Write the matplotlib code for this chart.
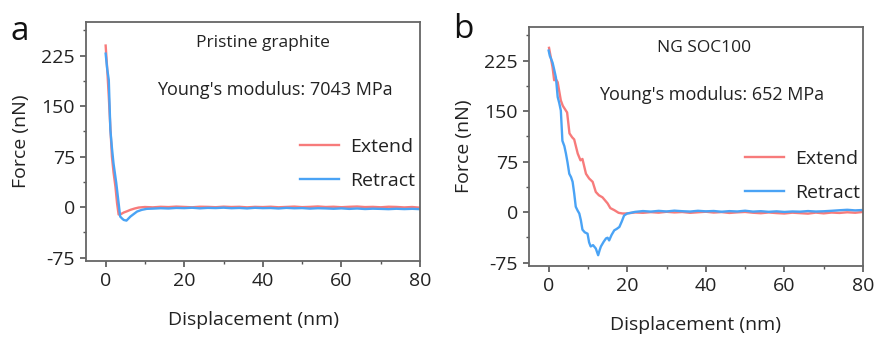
import numpy as np
import matplotlib
matplotlib.use("Agg")
import matplotlib.pyplot as plt
from matplotlib.ticker import MultipleLocator

plt.rcParams['font.family'] = ['Open Sans', 'DejaVu Sans']
plt.rcParams['axes.unicode_minus'] = False

RED = '#f77b7b'
BLUE = '#4aa3f5'

# tail x grid (nm) for the flat parts
tail_a_x = [12, 14, 16, 18, 20, 22, 24, 26, 28, 30, 32, 34, 36, 38, 40, 42, 44,
            46, 48, 50, 52, 54, 56, 58, 60, 62, 64, 66, 68, 70, 72, 74, 76, 78, 80]
tail_b_x = [22, 24, 26, 28, 30, 32, 34, 36, 38, 40, 42, 44, 46, 48, 50, 52, 54, 56,
            58, 60, 62, 64, 66, 68, 70, 72, 74, 76, 78, 80]

# panel a - pristine graphite
a_ext_x = [0, 0.4, 0.8, 1.2, 1.6, 2.0, 2.5, 2.9, 3.3, 4.0, 4.6, 5.5, 6.3, 7.4, 8.4, 10.0]
a_ext_y = [240, 205, 164, 118, 75, 52, 30, 6, -11, -10, -8, -6, -4, -2, -0.6, 0.2]
a_ext_tail = [-0.3, 0.5, 0.1, 0.8, 0.3, -0.2, 0.6, 0.4, -0.1, 0.7, 0.2, 0.5, -0.3,
              0.4, 0.1, 0.6, -0.2, 0.3, 0.8, 0.0, 0.4, 1.0, 0.2, 0.6, -0.1, 0.5, 0.9,
              0.1, 0.4, -0.2, 0.6, 0.3, -0.4, 0.2, -0.8]
a_ret_x = [0, 0.4, 0.8, 1.2, 1.6, 2.0, 2.7, 3.3, 3.7, 4.2, 4.6, 5.3, 6.3, 7.2, 8.0, 9.2, 10.5]
a_ret_y = [228, 205, 189, 115, 88, 65, 36, 6, -14, -17, -19, -20, -14, -10, -6.5, -4, -2.5]
a_ret_tail = [-2.2, -1.6, -2.0, -1.2, -1.5, -0.9, -1.8, -1.1, -1.4, -0.8, -1.6, -1.2,
              -1.9, -1.0, -1.5, -1.3, -2.0, -1.1, -1.7, -1.4, -2.2, -1.6, -1.9, -2.4, -1.8,
              -2.6, -2.0, -2.8, -2.3, -2.6, -3.0, -2.4, -2.9, -2.5, -3.0]

# panel b - NG SOC100
b_ext_x = [0.1, 0.6, 1.0, 1.4, 1.9, 2.3, 3.1, 3.6, 4.7, 5.3, 6.0, 6.5, 7.4, 8.1, 8.6,
           9.5, 10.3, 11.2, 12.0, 12.8, 13.7, 15.0, 15.7, 16.7, 17.8, 18.8, 19.5, 20.5]
b_ext_y = [244, 228, 215, 196, 197, 193, 166, 158, 148, 117, 111, 108, 87, 77, 79,
           57, 50, 45, 30, 25, 22, 13, 6, 3, -1, -2, -2, -1.5]
b_ext_tail = [-0.5, -1.0, 0.0, -0.8, 0.5, -0.4, 0.2, -1.0, -0.2, 0.6, -0.6, 0.1,
              -1.2, -0.3, 0.3, -0.9, -1.6, -0.5, -1.4, -2.0, -0.8, -1.5, -2.2, -0.7,
              -1.8, -0.6, -1.2, -0.2, -0.9, 0.3]
b_ret_x = [0.0, 0.3, 0.6, 1.0, 1.4, 1.85, 2.3, 2.7, 3.1, 3.5, 4.0, 4.4, 4.8, 5.25, 5.7,
           6.1, 6.5, 6.9, 7.4, 7.8, 8.2, 8.6, 9.2, 9.9, 10.3, 10.7, 11.3, 12.0, 12.6,
           13.0, 13.3, 14.0, 14.6, 15.0, 15.4, 16.0, 16.7, 17.3, 18.0, 18.6, 19.2, 20.0, 20.9]
b_ret_y = [240, 232, 228, 222, 212, 200, 171, 162, 151, 106, 98, 87, 74, 57, 52, 45,
           28, 8, 2, -2, -12, -26, -30, -32, -45, -51, -49, -54, -64, -56, -51, -44,
           -39, -38, -42, -34, -27, -25, -22, -14, -5, -2, -1]
b_ret_tail = [0.4, 1.6, 0.8, 1.9, 1.0, 2.2, 1.4, 0.9, 2.0, 1.2, 1.7, 0.6, 1.5,
              1.0, 2.1, 0.8, 1.4, 0.5, 1.2, 0.3, 1.0, 0.7, 1.6, 0.9, 1.3, 2.0, 2.8,
              3.5, 2.6, 3.2]

fig = plt.figure(figsize=(8.75, 3.38), dpi=100)

panels = [
    dict(rect=[86/875, 1-261/338, 334/875, 239/338], letter='a',
         title='Pristine graphite', modulus="Young's modulus: 7043 MPa",
         ext=(a_ext_x + tail_a_x, a_ext_y + a_ext_tail),
         ret=(a_ret_x + tail_a_x, a_ret_y + a_ret_tail),
         title_xy=(263, 43), mod_xy=(275, 90), leg_xy=(300, 138), letter_xy=(20, 32)),
    dict(rect=[529/875, 1-266/338, 334/875, 239/338], letter='b',
         title='NG SOC100', modulus="Young's modulus: 652 MPa",
         ext=(b_ext_x + tail_b_x, b_ext_y + b_ext_tail),
         ret=(b_ret_x + tail_b_x, b_ret_y + b_ret_tail),
         title_xy=(704, 48), mod_xy=(712, 95), leg_xy=(745, 150), letter_xy=(463, 30)),
]

for p in panels:
    ax = fig.add_axes(p['rect'])
    ax.plot(p['ext'][0], p['ext'][1], color=RED, lw=1.7, label='Extend')
    ax.plot(p['ret'][0], p['ret'][1], color=BLUE, lw=1.7, label='Retract')
    ax.set_xlim(-5, 80)
    ax.set_ylim(-80, 275)
    ax.set_xticks([0, 20, 40, 60, 80])
    ax.set_yticks([-75, 0, 75, 150, 225])
    ax.xaxis.set_minor_locator(MultipleLocator(10))
    ax.yaxis.set_minor_locator(MultipleLocator(37.5))
    ax.tick_params(which='major', direction='out', length=4, width=1.2, color='#555555',
                   labelsize=14, labelcolor='#222222', top=False, right=False, pad=4)
    ax.tick_params(which='minor', direction='out', length=2.5, width=1.0, color='#555555',
                   top=False, right=False)
    for s in ax.spines.values():
        s.set_color('#666666')
        s.set_linewidth(1.3)
    ax.set_xlabel('Displacement (nm)', fontsize=14, color='#222222')
    ax.set_ylabel('Force (nN)', fontsize=14, color='#222222')
    ax.xaxis.set_label_coords(0.5, -0.21)
    ax.yaxis.set_label_coords(-0.168, 0.5)

    fig.text(p['title_xy'][0]/875, 1-p['title_xy'][1]/338, p['title'], fontsize=12.5,
             ha='center', va='center', color='#222222')
    fig.text(p['mod_xy'][0]/875, 1-p['mod_xy'][1]/338, p['modulus'], fontsize=13,
             ha='center', va='center', color='#222222')
    fig.text(p['letter_xy'][0]/875, 1-p['letter_xy'][1]/338, p['letter'], fontsize=24,
             ha='center', va='center', color='#111111')
    ax.legend(loc='upper left', bbox_to_anchor=(p['leg_xy'][0]/875, 1-p['leg_xy'][1]/338),
              bbox_transform=fig.transFigure, frameon=False, fontsize=14,
              handlelength=2.0, handletextpad=0.6, labelspacing=0.82,
              borderpad=0, borderaxespad=0, labelcolor='#222222')

fig.savefig('out.png', dpi=100)
